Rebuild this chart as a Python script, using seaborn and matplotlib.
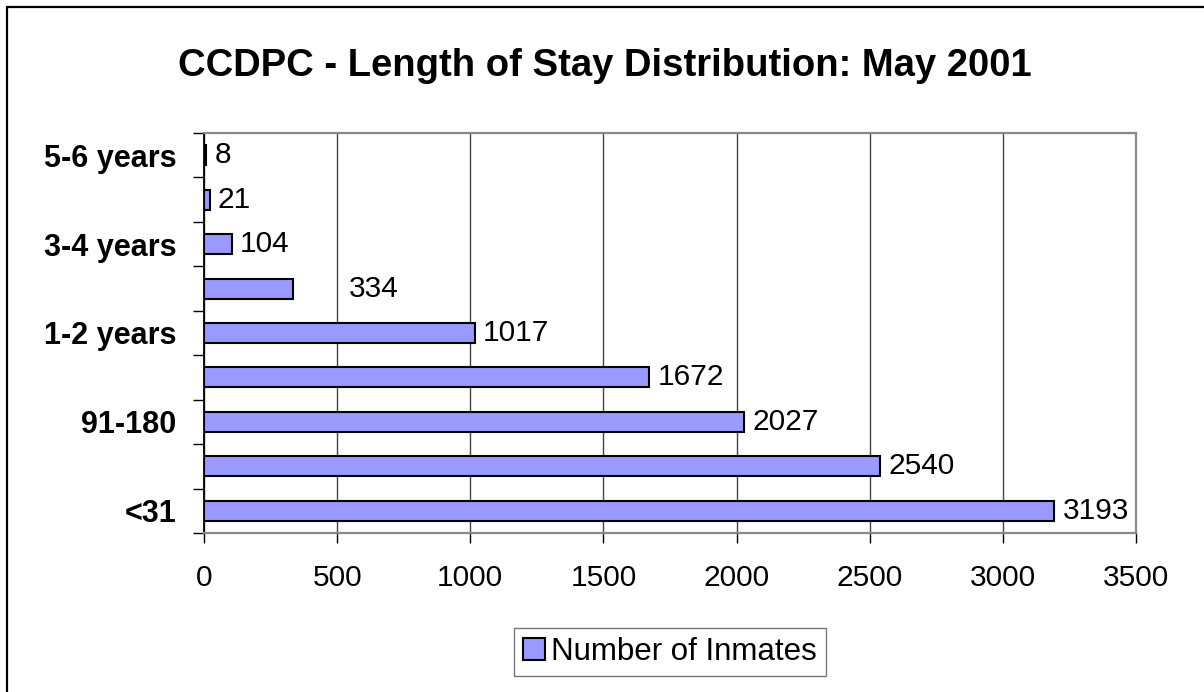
import matplotlib
matplotlib.use('Agg')
import matplotlib.pyplot as plt
import seaborn as sns
import pandas as pd
from matplotlib.patches import Rectangle, Patch

# data, top to bottom as in the chart
categories = ['5-6 years', '4-5 years', '3-4 years', '2-3 years', '1-2 years',
              '181-365', '91-180', '31-90', '<31']
tick_labels = ['5-6 years', '', '3-4 years', '', '1-2 years', '', '91-180', '', '<31']
inmates = [8, 21, 104, 334, 1017, 1672, 2027, 2540, 3193]
label_pad = [6, 6, 6, 40, 6, 6, 6, 6, 6]

df = pd.DataFrame({'Category': categories, 'Number of Inmates': inmates})

sns.set_style('white')
plt.rcParams['font.family'] = ['Liberation Sans', 'DejaVu Sans']
plt.rcParams['text.color'] = 'black'
plt.rcParams['xtick.color'] = 'black'
plt.rcParams['ytick.color'] = 'black'

W, H = 1204, 692
fig = plt.figure(figsize=(W / 100, H / 100), dpi=100)
ax = fig.add_axes([204 / W, 1 - 533 / H, (1136 - 204) / W, (533 - 133) / H])

sns.barplot(data=df, y='Category', x='Number of Inmates', orient='h',
            color='#9999FF', edgecolor='black', linewidth=1.5, width=0.45,
            saturation=1, ax=ax)

ax.set_xlim(0, 3500)
ax.set_ylim(len(categories) - 0.5, -0.5)
ax.set_xticks(range(0, 3501, 500))
ax.set_xticklabels([str(v) for v in range(0, 3501, 500)], fontsize=21.5)
ax.set_yticks(range(len(categories)))
ax.set_yticklabels(tick_labels, fontsize=22, fontweight='bold')
ax.set_yticks([i + 0.5 for i in range(-1, len(categories))], minor=True)
ax.tick_params(axis='y', which='major', length=0, pad=20)
ax.tick_params(axis='y', which='minor', length=8, width=1, color='black', direction='out', left=True)
ax.tick_params(axis='x', length=7, width=1, color='black', direction='out', bottom=True, pad=15)
ax.xaxis.grid(True, color='#444444', linewidth=1)
ax.set_axisbelow(True)
ax.set_xlabel('')
ax.set_ylabel('')
ax.spines['left'].set_color('black')
ax.spines['left'].set_linewidth(1.3)
for side in ['top', 'right', 'bottom']:
    ax.spines[side].set_color('#888888')
    ax.spines[side].set_linewidth(1.6)

for bar, val, pad in zip(ax.patches, inmates, label_pad):
    ax.annotate(str(val), (bar.get_width(), bar.get_y() + bar.get_height() / 2),
                xytext=(pad, 0), textcoords='offset points', va='center', ha='left', fontsize=21.5)

fig.text(605 / W, 1 - 66 / H, 'CCDPC - Length of Stay Distribution: May 2001',
         ha='center', va='center', fontsize=27.5, fontweight='bold')

handle = Patch(facecolor='#9999FF', edgecolor='black', linewidth=1.5, label='Number of Inmates')
fig.legend(handles=[handle], loc='center', bbox_to_anchor=(670 / W, 1 - 652 / H),
           fontsize=22.5, frameon=True, fancybox=False, edgecolor='#555555',
           handlelength=0.7, handleheight=0.7, handletextpad=0.2, borderpad=0.3,
           borderaxespad=0)

# chart frame, only left and top edges fall inside the image
fig.patches.append(Rectangle((7 / W, -0.1), 1.2, 1.1 - 7 / H, transform=fig.transFigure,
                             fill=False, edgecolor='black', linewidth=1.6))

fig.savefig('out.png', dpi=100)
